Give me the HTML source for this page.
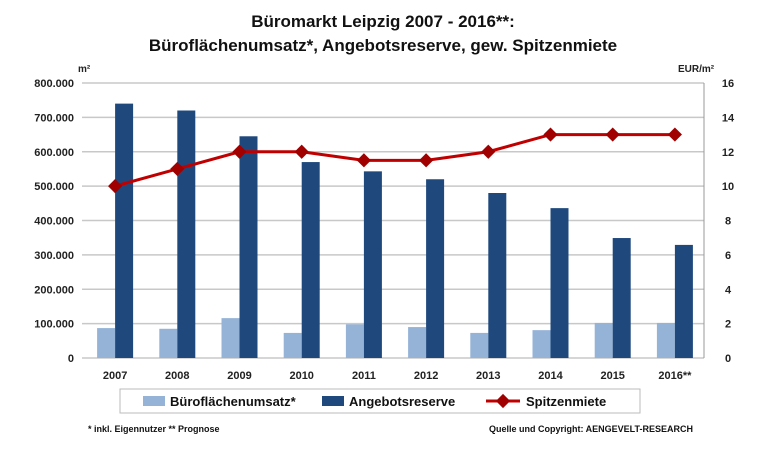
<!DOCTYPE html>
<html><head><meta charset="utf-8"><style>
body{margin:0;background:#fff;width:760px;height:446px;overflow:hidden;font-family:"Liberation Sans",Arial,sans-serif}
text{font-family:"Liberation Sans",Arial,sans-serif}
</style></head><body>
<svg id="c" width="760" height="446">
<text x="383" y="27" text-anchor="middle" font-size="17" font-weight="bold" fill="#111">Büromarkt Leipzig 2007 - 2016**:</text>
<text x="383" y="51" text-anchor="middle" font-size="17" font-weight="bold" fill="#111">Büroflächenumsatz*, Angebotsreserve, gew. Spitzenmiete</text>
<text x="78" y="72" font-size="10" font-weight="bold" fill="#222">m²</text>
<text x="678" y="72" font-size="10" font-weight="bold" fill="#222">EUR/m²</text>
<g id="grid"></g><g id="bars"></g><g id="line"></g><g id="axes"></g>
<rect x="120" y="389" width="520" height="24" fill="#fff" stroke="#bbb"/>
<rect x="143" y="396" width="22" height="10" fill="#95b3d7"/>
<text x="170" y="406" font-size="13" font-weight="bold" fill="#111">Büroflächenumsatz*</text>
<rect x="322" y="396" width="22" height="10" fill="#1f497d"/>
<text x="349" y="406" font-size="13" font-weight="bold" fill="#111">Angebotsreserve</text>
<line x1="486" y1="401" x2="520" y2="401" stroke="#c00000" stroke-width="3"/>
<rect x="498" y="396" width="10" height="10" fill="#a00000" transform="rotate(45 503 401)"/>
<text x="526" y="406" font-size="13" font-weight="bold" fill="#111">Spitzenmiete</text>
<text x="88" y="432" font-size="9" font-weight="bold" fill="#111">* inkl. Eigennutzer    ** Prognose</text>
<text x="693" y="432" text-anchor="end" font-size="9" font-weight="bold" fill="#111">Quelle und Copyright: AENGEVELT-RESEARCH</text>
</svg>
<script>
const categories=["2007","2008","2009","2010","2011","2012","2013","2014","2015","2016**"];
const umsatz=[87000,85000,116000,73000,98000,90000,73000,81000,102000,102000];
const angebot=[740000,720000,645000,570000,543000,520000,480000,436000,349000,329000];
const miete=[10,11,12,12,11.5,11.5,12,13,13,13];
const leftTicks=[0,100000,200000,300000,400000,500000,600000,700000,800000];
const rightTicks=[0,2,4,6,8,10,12,14,16];
const NS="http://www.w3.org/2000/svg";
const L=82,R=704,T=83,B=358;
const yL=v=>B-(v/800000)*(B-T);
const yR=v=>B-(v/16)*(B-T);
const gw=(R-L)/categories.length;
const xc=i=>L+gw*i+gw/2+2;
function mk(tag,attrs,parent){const e=document.createElementNS(NS,tag);for(const k in attrs)e.setAttribute(k,attrs[k]);document.getElementById(parent).appendChild(e);return e;}
const fmt=v=>v===0?"0":(v/1000).toFixed(0)+".000";
leftTicks.forEach(v=>{
  const g=mk("line",{x1:L,x2:R,y1:yL(v),y2:yL(v),stroke:"#c8c8c8","stroke-width":1.5},"grid");
  
  
  const t=mk("text",{x:L-8,y:yL(v)+4,"text-anchor":"end","font-size":11,"font-weight":"bold",fill:"#222"},"axes");
  t.textContent=fmt(v);
  
  
});
rightTicks.forEach(v=>{
  const t=mk("text",{x:R+24,y:yR(v)+4,"text-anchor":"middle","font-size":11,"font-weight":"bold",fill:"#222"},"axes");
  t.textContent=v;
  
  
});
const ax=mk("line",{x1:R,x2:R,y1:T,y2:B,stroke:"#999"},"axes");


categories.forEach((c,i)=>{
  const x=xc(i);
  const b1=mk("rect",{x:x-18,y:yL(umsatz[i]),width:18,height:B-yL(umsatz[i]),fill:"#95b3d7"},"bars");
  
  
  const b2=mk("rect",{x:x,y:yL(angebot[i]),width:18,height:B-yL(angebot[i]),fill:"#1f497d"},"bars");
  
  
  const t=mk("text",{x:x,y:379,"text-anchor":"middle","font-size":11,"font-weight":"bold",fill:"#222"},"axes");
  t.textContent=c;
  
  
});
const pts=miete.map((v,i)=>xc(i)+","+yR(v)).join(" ");
const pl=mk("polyline",{points:pts,fill:"none",stroke:"#c00000","stroke-width":3},"line");


miete.forEach((v,i)=>{
  const m=mk("rect",{x:xc(i)-5,y:yR(v)-5,width:10,height:10,fill:"#a00000",transform:`rotate(45 ${xc(i)} ${yR(v)})`},"line");
  
  
});
</script>
</body></html>
